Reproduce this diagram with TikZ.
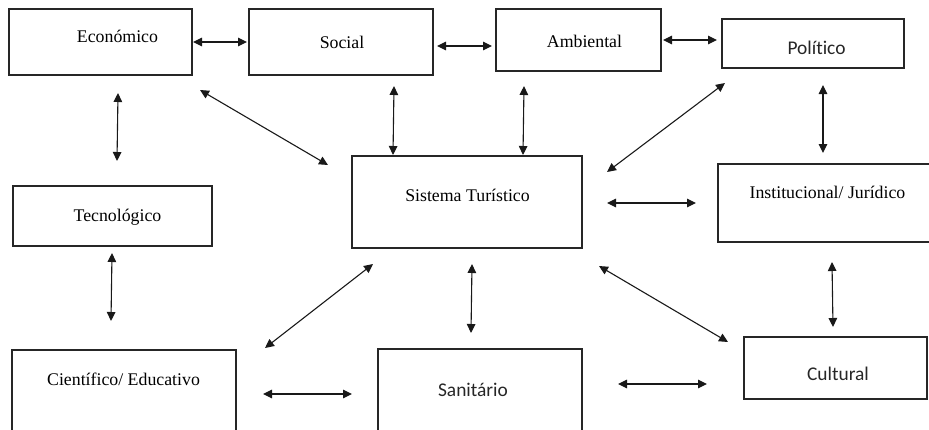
\documentclass[tikz,border=0pt]{standalone}
\usepackage{fontspec}
\setmainfont{Liberation Serif}
\newfontfamily\sansf[Ligatures=CommonOff]{Carlito}
\usetikzlibrary{arrows.meta}

\tikzset{
  box/.style={draw=black!85, line width=1.3pt, fill=none},
  serlabel/.style={anchor=base, inner sep=0pt, text=black,
    font=\fontsize{17.8}{20}\selectfont},
  sanlabel/.style={anchor=base, inner sep=0pt, text=black!85,
    font=\sansf\fontsize{19.4}{22}\selectfont},
  link/.style={line width=1.1pt, draw=black!90,
    {Triangle[length=9pt,width=8.5pt]}-{Triangle[length=9pt,width=8.5pt]}}
}

\begin{document}
\begin{tikzpicture}[x=1pt,y=-1pt]
\useasboundingbox (0,0) rectangle (929,429);
\clip (0,0) rectangle (929,429);

% frames of the ten areas
\draw[box] (9,9) rectangle (192,75);
\draw[box] (249,9) rectangle (433,75);
\draw[box] (496,9) rectangle (661,71);
\draw[box] (722,19) rectangle (904,68);
\draw[box] (352,156) rectangle (582,248);
\draw[box] (718,164) rectangle (940,242);
\draw[box] (13,186) rectangle (212,246);
\draw[box] (12,350) rectangle (236,445);
\draw[box] (378,349) rectangle (582,445);
\draw[box] (744,337) rectangle (927,399);

% titles
\node[serlabel] (eco) at (117.5,42) {Económico};
\node[serlabel] (soc) at (342,48) {Social};
\node[serlabel] (amb) at (584.5,47) {Ambiental};
\node[sanlabel] (pol) at (816.5,54) {Político};
\node[serlabel] (sis) at (467.5,201) {Sistema Turístico};
\node[serlabel] (ins) at (827.5,198) {Institucional/ Jurídico};
\node[serlabel] (tec) at (117.5,221) {Tecnológico};
\node[serlabel] (cie) at (123.5,385) {Científico/ Educativo};
\node[sanlabel] (san) at (473,396) {Sanitário};
\node[sanlabel] (cul) at (838,380) {Cultural};

% end points of the double arrows
\coordinate (a1s) at (193,42);  \coordinate (a1e) at (247,42);
\coordinate (a2s) at (437,46);  \coordinate (a2e) at (492,46);
\coordinate (a3s) at (663,40);  \coordinate (a3e) at (717,40);
\coordinate (a4s) at (118,93);  \coordinate (a4e) at (117,161);
\coordinate (a5s) at (200,90);  \coordinate (a5e) at (328,165);
\coordinate (a6s) at (394,86);  \coordinate (a6e) at (393,155);
\coordinate (a7s) at (524,86);  \coordinate (a7e) at (523,155);
\coordinate (a8s) at (725,83);  \coordinate (a8e) at (607,172);
\coordinate (a9s) at (823,85);  \coordinate (a9e) at (823,153);
\coordinate (b1s) at (607,203); \coordinate (b1e) at (696,203);
\coordinate (b2s) at (832,262); \coordinate (b2e) at (833,327);
\coordinate (b3s) at (112,253); \coordinate (b3e) at (111,321);
\coordinate (b4s) at (373,264); \coordinate (b4e) at (265,348);
\coordinate (b5s) at (472,264); \coordinate (b5e) at (471,333);
\coordinate (b6s) at (599,266); \coordinate (b6e) at (728,342);
\coordinate (b7s) at (263,394); \coordinate (b7e) at (352,394);
\coordinate (b8s) at (618,384); \coordinate (b8e) at (707,384);

\foreach \p in {a1,a2,a3,a4,a5,a6,a7,a8,a9,b1,b2,b3,b4,b5,b6,b7,b8}
  \draw[link] (\p s) -- (\p e);
\end{tikzpicture}
\end{document}
